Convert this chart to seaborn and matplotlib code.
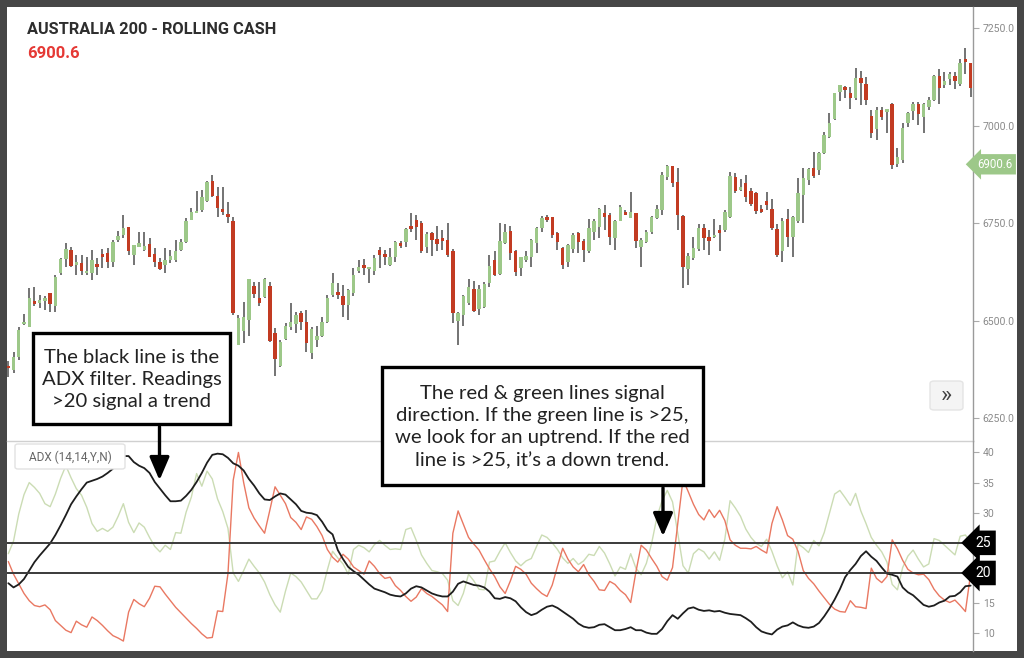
import numpy as np
import pandas as pd
import matplotlib
matplotlib.use('Agg')
import matplotlib.pyplot as plt
import seaborn as sns
from matplotlib.patches import Rectangle, FancyBboxPatch, FancyArrowPatch
from matplotlib.transforms import blended_transform_factory

# --- price candles (Australia 200 daily) ---
opens = [6382, 6373, 6407, 6490, 6484, 6550, 6546, 6550, 6570, 6536,
         6621, 6657, 6681, 6643, 6647, 6621, 6621, 6645, 6671, 6673,
         6651, 6707, 6719, 6741, 6668, 6689, 6681, 6696, 6671, 6651,
         6643, 6654, 6655, 6681, 6702, 6758, 6775, 6784, 6807, 6858,
         6819, 6785, 6774, 6756, 6437, 6472, 6502, 6589, 6557, 6560,
         6589, 6467, 6384, 6452, 6484, 6491, 6519, 6496, 6416, 6450,
         6459, 6497, 6566, 6572, 6563, 6540, 6570, 6628, 6642, 6631,
         6628, 6681, 6670, 6643, 6662, 6699, 6702, 6743, 6758, 6749,
         6689, 6724, 6708, 6711, 6707, 6679, 6500, 6514, 6546, 6580,
         6529, 6534, 6596, 6654, 6619, 6698, 6730, 6677, 6634, 6655,
         6664, 6698, 6737, 6766, 6765, 6724, 6685, 6651, 6683, 6725,
         6705, 6677, 6728, 6739, 6775, 6771, 6711, 6754, 6779, 6762,
         6775, 6689, 6702, 6728, 6762, 6784, 6869, 6895, 6856, 6768,
         6632, 6660, 6683, 6737, 6714, 6713, 6732, 6732, 6766, 6867,
         6835, 6852, 6833, 6826, 6785, 6807, 6785, 6734, 6677, 6760,
         6714, 6754, 6822, 6861, 6890, 6886, 6929, 6970, 7016, 7087,
         7098, 7083, 7070, 7121, 7106, 7025, 6990, 7040, 7036, 7055,
         6901, 6912, 7007, 7038, 7055, 7021, 7047, 7066, 7127, 7104,
         7119, 7127, 7107, 7170, 7160]
highs = [6395, 6420, 6484, 6517, 6583, 6587, 6566, 6563, 6571, 6617,
         6660, 6700, 6688, 6668, 6668, 6662, 6681, 6660, 6683, 6685,
         6707, 6730, 6771, 6741, 6694, 6728, 6728, 6711, 6685, 6660,
         6685, 6681, 6707, 6708, 6762, 6788, 6833, 6835, 6859, 6873,
         6843, 6842, 6805, 6766, 6514, 6548, 6606, 6600, 6600, 6610,
         6600, 6480, 6450, 6493, 6544, 6523, 6525, 6527, 6484, 6486,
         6510, 6566, 6621, 6597, 6591, 6580, 6634, 6655, 6657, 6638,
         6668, 6688, 6681, 6685, 6705, 6704, 6737, 6775, 6771, 6754,
         6728, 6728, 6743, 6732, 6749, 6683, 6523, 6566, 6606, 6602,
         6591, 6600, 6668, 6677, 6749, 6748, 6743, 6681, 6664, 6677,
         6709, 6741, 6768, 6771, 6766, 6728, 6689, 6696, 6725, 6728,
         6708, 6760, 6760, 6788, 6796, 6775, 6758, 6796, 6783, 6830,
         6775, 6711, 6733, 6768, 6796, 6882, 6898, 6896, 6890, 6771,
         6672, 6714, 6747, 6747, 6732, 6760, 6745, 6784, 6882, 6878,
         6862, 6873, 6839, 6830, 6796, 6830, 6811, 6748, 6762, 6785,
         6768, 6865, 6890, 6892, 6933, 6933, 6984, 7031, 7084, 7104,
         7101, 7098, 7147, 7141, 7124, 7040, 7047, 7047, 7042, 7057,
         6942, 7006, 7035, 7061, 7061, 7057, 7073, 7130, 7144, 7138,
         7138, 7138, 7170, 7198, 7161]
lows = [6356, 6365, 6399, 6489, 6484, 6536, 6531, 6527, 6523, 6523,
        6617, 6638, 6638, 6617, 6617, 6617, 6604, 6617, 6634, 6634,
        6638, 6702, 6711, 6668, 6643, 6689, 6677, 6664, 6638, 6630,
        6623, 6648, 6651, 6677, 6698, 6758, 6775, 6779, 6805, 6818,
        6766, 6771, 6749, 6514, 6437, 6442, 6459, 6557, 6536, 6557,
        6446, 6358, 6382, 6450, 6476, 6467, 6476, 6418, 6401, 6433,
        6457, 6493, 6561, 6555, 6510, 6502, 6563, 6621, 6617, 6595,
        6617, 6634, 6643, 6640, 6651, 6687, 6689, 6728, 6707, 6672,
        6672, 6666, 6679, 6681, 6664, 6493, 6437, 6486, 6540, 6523,
        6514, 6532, 6585, 6613, 6617, 6696, 6655, 6614, 6613, 6651,
        6637, 6673, 6727, 6753, 6711, 6681, 6631, 6637, 6672, 6672,
        6651, 6672, 6707, 6711, 6732, 6694, 6681, 6754, 6771, 6762,
        6685, 6638, 6698, 6722, 6760, 6771, 6860, 6842, 6732, 6583,
        6591, 6655, 6679, 6681, 6668, 6711, 6677, 6728, 6762, 6826,
        6831, 6805, 6794, 6773, 6775, 6784, 6732, 6664, 6651, 6689,
        6664, 6749, 6751, 6848, 6865, 6873, 6927, 6967, 7013, 7064,
        7070, 7042, 7066, 7053, 7053, 6967, 6963, 7014, 6982, 6888,
        6893, 6905, 6997, 7014, 7001, 6982, 7040, 7064, 7055, 7096,
        7104, 7093, 7101, 7132, 7074]
closes = [6378, 6407, 6476, 6497, 6557, 6542, 6553, 6558, 6543, 6611,
          6657, 6683, 6640, 6650, 6627, 6627, 6655, 6638, 6664, 6651,
          6702, 6718, 6737, 6679, 6694, 6698, 6691, 6664, 6651, 6631,
          6654, 6666, 6679, 6702, 6754, 6779, 6782, 6816, 6856, 6819,
          6788, 6778, 6766, 6520, 6506, 6510, 6606, 6568, 6546, 6607,
          6448, 6401, 6446, 6487, 6496, 6514, 6495, 6442, 6478, 6459,
          6497, 6557, 6597, 6565, 6540, 6578, 6617, 6637, 6635, 6638,
          6660, 6668, 6662, 6662, 6702, 6691, 6734, 6734, 6739, 6679,
          6722, 6707, 6696, 6705, 6668, 6519, 6520, 6563, 6587, 6525,
          6580, 6594, 6640, 6617, 6705, 6728, 6672, 6625, 6662, 6666,
          6707, 6737, 6762, 6758, 6719, 6702, 6643, 6694, 6719, 6702,
          6681, 6737, 6756, 6785, 6766, 6715, 6756, 6792, 6771, 6779,
          6705, 6707, 6728, 6766, 6785, 6873, 6895, 6852, 6771, 6638,
          6666, 6685, 6737, 6711, 6705, 6719, 6724, 6777, 6871, 6833,
          6843, 6816, 6799, 6782, 6777, 6796, 6737, 6668, 6756, 6714,
          6766, 6826, 6865, 6888, 6871, 6929, 6976, 7007, 7083, 7104,
          7091, 7070, 7121, 7108, 7066, 6982, 7040, 7021, 7042, 6899,
          6919, 6993, 7031, 7055, 7030, 7055, 7066, 7127, 7096, 7115,
          7132, 7115, 7160, 7164, 7096]

# --- ADX (14,14) indicator ---
adx = [18.3, 17.6, 18.1, 19.0, 20.4, 21.8, 22.9, 23.9, 24.9, 26.3,
       27.9, 29.6, 31.4, 32.7, 33.9, 35.0, 35.3, 35.6, 36.0, 36.6,
       37.3, 38.4, 39.4, 39.4, 38.4, 37.8, 37.4, 36.6, 35.1, 34.0,
       32.9, 31.9, 31.9, 32.0, 32.8, 33.8, 35.1, 36.6, 38.3, 39.6,
       39.8, 39.7, 39.1, 38.2, 37.8, 37.0, 35.6, 34.5, 33.2, 32.2,
       32.1, 32.7, 33.2, 33.0, 32.2, 31.4, 30.3, 30.0, 29.9, 29.6,
       28.5, 27.1, 26.4, 23.8, 22.3, 21.0, 20.3, 19.7, 18.9, 18.1,
       17.4, 17.1, 16.8, 16.4, 16.2, 16.1, 16.6, 17.4, 17.8, 17.6,
       17.1, 16.6, 16.3, 16.1, 16.1, 16.9, 18.2, 18.6, 18.3, 18.0,
       17.9, 17.6, 16.9, 15.8, 15.7, 16.0, 15.8, 15.3, 14.3, 13.5,
       13.0, 13.3, 13.9, 14.4, 14.6, 14.2, 13.6, 13.0, 12.4, 11.6,
       11.1, 10.9, 11.0, 11.4, 11.5, 11.0, 10.5, 10.5, 10.7, 11.0,
       10.5, 10.5, 10.1, 9.9, 9.9, 10.7, 12.0, 13.0, 12.4, 13.3,
       14.1, 14.3, 13.9, 13.7, 13.8, 13.6, 13.7, 13.4, 13.2, 13.1,
       13.0, 12.5, 11.9, 11.0, 10.3, 10.0, 9.8, 10.6, 11.1, 11.3,
       11.8, 11.3, 11.0, 10.9, 11.1, 11.7, 12.8, 14.1, 15.6, 17.3,
       19.3, 20.5, 21.5, 22.8, 23.6, 22.7, 22.0, 20.9, 19.9, 19.7,
       19.4, 17.6, 16.8, 16.3, 15.5, 14.7, 14.4, 14.6, 15.1, 15.4,
       16.1, 16.2, 16.8, 17.8, 17.9]
minus_di = [21.9, 19.8, 18.2, 16.6, 15.4, 14.6, 14.4, 14.7, 13.9, 12.1,
            11.3, 10.5, 10.1, 12.0, 11.4, 11.0, 12.7, 12.1, 11.3, 10.4,
            9.6, 9.2, 8.7, 13.5, 15.6, 14.9, 14.4, 15.8, 17.8, 17.7,
            16.5, 15.4, 14.3, 13.4, 12.5, 11.6, 10.8, 9.9, 9.2, 9.3,
            13.7, 13.6, 19.9, 35.4, 40.0, 35.0, 30.8, 29.1, 27.8, 26.6,
            30.4, 34.3, 32.9, 31.5, 29.2, 28.4, 27.2, 29.3, 28.9, 27.7,
            26.2, 23.9, 22.6, 21.8, 23.1, 22.3, 21.0, 20.4, 19.8, 22.0,
            21.1, 19.9, 19.1, 19.3, 17.9, 17.1, 16.1, 15.3, 16.0, 17.4,
            16.6, 16.1, 15.4, 14.7, 13.6, 26.6, 30.3, 28.1, 25.9, 24.8,
            23.8, 22.2, 20.7, 19.4, 17.7, 16.6, 18.7, 21.1, 20.6, 19.8,
            18.3, 17.4, 16.6, 16.1, 18.0, 21.1, 24.1, 22.3, 21.0, 20.2,
            21.4, 19.7, 18.6, 17.2, 17.1, 18.6, 18.1, 17.1, 16.4, 15.1,
            20.2, 24.6, 23.8, 22.4, 21.1, 19.4, 18.8, 20.9, 28.2, 35.5,
            33.5, 31.4, 29.7, 28.8, 30.5, 29.2, 30.4, 28.7, 25.5, 24.6,
            24.1, 24.1, 24.0, 24.4, 23.8, 23.3, 28.2, 31.0, 28.8, 26.2,
            25.6, 23.6, 20.4, 19.1, 18.2, 17.0, 15.9, 14.8, 14.0, 13.6,
            13.5, 15.4, 14.4, 14.3, 14.1, 20.8, 19.1, 18.4, 19.4, 25.5,
            24.0, 22.1, 20.6, 20.0, 19.7, 19.8, 18.9, 17.3, 16.2, 15.5,
            15.1, 15.5, 14.6, 13.6, 19.9]
plus_di = [23.2, 25.3, 29.8, 33.0, 35.0, 34.2, 33.2, 31.5, 31.0, 33.1,
           35.7, 37.8, 35.8, 34.0, 32.9, 30.9, 28.2, 26.9, 27.4, 26.9,
           27.6, 29.4, 31.5, 28.4, 26.7, 28.3, 27.6, 25.9, 24.4, 23.5,
           24.6, 23.9, 26.7, 26.6, 30.1, 32.6, 36.5, 34.4, 36.9, 35.6,
           32.3, 30.2, 27.4, 20.0, 18.6, 20.4, 22.3, 21.1, 20.0, 18.5,
           16.4, 14.7, 13.5, 17.0, 20.0, 19.4, 18.5, 17.1, 15.7, 15.7,
           17.1, 20.5, 23.6, 22.5, 21.5, 19.8, 23.9, 24.6, 24.2, 23.5,
           24.7, 25.4, 24.6, 23.9, 24.0, 23.9, 27.2, 27.5, 25.4, 23.0,
           21.6, 20.4, 20.2, 19.9, 18.8, 15.4, 14.6, 16.6, 19.8, 18.7,
           17.3, 17.2, 21.8, 22.0, 23.6, 25.0, 23.4, 22.0, 21.2, 22.0,
           22.4, 24.4, 26.3, 25.9, 25.0, 23.9, 22.5, 21.6, 22.4, 21.4,
           22.0, 23.1, 22.9, 24.4, 23.3, 21.5, 19.5, 21.0, 20.6, 23.2,
           20.8, 19.7, 21.6, 24.9, 29.2, 32.0, 33.7, 31.8, 26.6, 21.2,
           20.0, 23.2, 24.0, 23.5, 22.3, 23.5, 22.1, 25.6, 32.0, 30.8,
           29.4, 27.3, 25.9, 24.9, 24.4, 25.6, 23.6, 21.2, 19.2, 20.2,
           18.0, 24.8, 24.2, 23.4, 25.4, 24.5, 26.7, 29.9, 33.1, 33.7,
           32.5, 31.2, 33.2, 30.3, 28.2, 25.9, 24.6, 23.5, 21.8, 18.1,
           17.2, 20.9, 22.8, 23.8, 22.3, 21.0, 21.5, 25.7, 25.4, 24.6,
           23.8, 23.0, 26.1, 26.3, 25.1]

price_ticks = [6250, 6500, 6750, 7000, 7250]
adx_ticks = [10, 15, 20, 25, 30, 35, 40]
adx_levels = [25, 20]
last_price = 6900.6

df = pd.DataFrame({'bar': np.arange(len(opens)), 'open': opens, 'high': highs,
                   'low': lows, 'close': closes, 'adx': adx,
                   'minus_di': minus_di, 'plus_di': plus_di})

sns.set_style('white')
plt.rcParams['font.family'] = ['Roboto', 'DejaVu Sans']

W, H = 1024, 658
fig = plt.figure(figsize=(W / 100, H / 100), dpi=100)
fig.patch.set_facecolor('#464646')


def fx(px):
    return px / W


def fy(py):
    return 1 - py / H


fig.add_artist(Rectangle((fx(7), fy(651)), (1017 - 7) / W, (651 - 7) / H,
                         transform=fig.transFigure, fc='white', ec='none', zorder=-1))

ax = fig.add_axes([fx(7), fy(441), 966 / W, 434 / H])
ax2 = fig.add_axes([fx(7), fy(651), 966 / W, 210 / H], sharex=ax)
for a in (ax, ax2):
    a.set_facecolor('none')
    for s in ('top', 'left'):
        a.spines[s].set_visible(False)
    a.spines['right'].set_color('#9a9a9a')
    a.spines['right'].set_linewidth(1)
    a.yaxis.tick_right()
    a.tick_params(axis='y', direction='out', length=4, width=0.8, color='#aaaaaa',
                  labelcolor='#8a8a8a', labelsize=7.5, pad=3)
    a.tick_params(axis='x', bottom=False, labelbottom=False)
ax.spines['bottom'].set_color('#d0d0d0')
ax.spines['bottom'].set_linewidth(1)
ax2.spines['bottom'].set_visible(False)

# candles
up = df['close'] >= df['open']
body_lo = np.minimum(df['open'], df['close'])
body_h = np.maximum(np.abs(df['close'] - df['open']), 5)
ax.vlines(df['bar'], df['low'], df['high'], color='#4d4d4d', lw=1.1, zorder=2)
ax.bar(df['bar'], body_h, bottom=body_lo, width=0.66,
       color=np.where(up, '#9dc889', '#c23b22'), edgecolor='none', zorder=3)
ax.set_xlim(-0.25, 184.45)
ax.set_ylim(6191, 7304)
ax.set_yticks(price_ticks)
ax.set_yticklabels([f'{t:.1f}' for t in price_ticks])

# ADX panel
sns.lineplot(data=df, x='bar', y='plus_di', ax=ax2, color='#cbdcb4', lw=1.0)
sns.lineplot(data=df, x='bar', y='minus_di', ax=ax2, color='#e97862', lw=1.0)
sns.lineplot(data=df, x='bar', y='adx', ax=ax2, color='#1e1e1e', lw=1.3)
for lv in adx_levels:
    ax2.axhline(lv, color='#3a3a3a', lw=1.4, zorder=4)
ax2.set_ylim(7.05, 41.9)
ax2.set_yticks(adx_ticks)
# the 25 / 20 levels are labelled by the black tags instead
ax2.set_yticklabels(['' if t in adx_levels else str(t) for t in adx_ticks])
for a in (ax, ax2):
    a.set_xlabel('')
    a.set_ylabel('')

tr = blended_transform_factory(ax.transAxes, ax.transData)
ax.text(1 + 4 / 966, last_price, f'{last_price:.1f}', transform=tr, ha='left', va='center',
        color='white', fontsize=8.3, clip_on=False, zorder=10,
        bbox=dict(boxstyle='larrow,pad=0.32', fc='#9dc889', ec='none'))
tr2 = blended_transform_factory(ax2.transAxes, ax2.transData)
for lv in adx_levels:
    ax2.text(1 + 2 / 966, lv, str(lv), transform=tr2, ha='left', va='center',
             color='white', fontsize=10, clip_on=False, zorder=10,
             bbox=dict(boxstyle='larrow,pad=0.38', fc='black', ec='none'))

# header
fig.text(fx(27), fy(30), 'AUSTRALIA 200 - ROLLING CASH', fontsize=11.8, fontweight='bold',
         color='#2e2e2e', ha='left', va='center')
fig.text(fx(27), fy(53), f'{last_price:.1f}', fontsize=12, fontweight='bold',
         color='#e53935', ha='left', va='center')

# ADX label chip
fig.add_artist(FancyBboxPatch((fx(15), fy(469)), 110 / W, 25 / H, boxstyle='round,pad=0,rounding_size=0.003',
                              transform=fig.transFigure, fc='white', ec='#e2e2e2', lw=1, zorder=5))
fig.text(fx(70), fy(457), 'ADX (14,14,Y,N)', fontsize=8.5, color='#666666', ha='center', va='center',
         zorder=6)

# scroll button
fig.add_artist(FancyBboxPatch((fx(930), fy(410)), 33 / W, 29 / H, boxstyle='round,pad=0,rounding_size=0.004',
                              transform=fig.transFigure, fc='#f4f4f4', ec='#e4e4e4', lw=1, zorder=5))
fig.text(fx(946.5), fy(396), '\u00bb', fontsize=17, color='#444444', ha='center', va='center', zorder=6)

# callout boxes
note_font = ['Lato', 'DejaVu Sans']
boxes = [
    ((33, 333, 230, 424), 'The black line is the\nADX filter. Readings\n>20 signal a trend', (159.5, 424, 483)),
    ((382, 367, 703, 485), 'The red & green lines signal\ndirection. If the green line is >25,\n'
     'we look for an uptrend. If the red\nline is >25, it\u2019s a down trend.', (663, 485, 539)),
]
for (x0, y0, x1, y1), txt, (axx, ay0, ay1) in boxes:
    fig.add_artist(Rectangle((fx(x0), fy(y1)), (x1 - x0) / W, (y1 - y0) / H, transform=fig.transFigure,
                             fc='white', ec='black', lw=2.4, zorder=20))
    fig.text(fx((x0 + x1) / 2), fy((y0 + y1) / 2 + 1), txt, family=note_font, fontsize=14.6,
             color='#222222', ha='center', va='center', linespacing=1.36, zorder=21)
    fig.add_artist(FancyArrowPatch((fx(axx), fy(ay0)), (fx(axx), fy(ay1)), transform=fig.transFigure,
                                   arrowstyle='-|>,head_length=0.7,head_width=0.3', mutation_scale=20,
                                   color='black', lw=2.4, zorder=20))

fig.savefig('out.png', dpi=100, facecolor=fig.get_facecolor())
